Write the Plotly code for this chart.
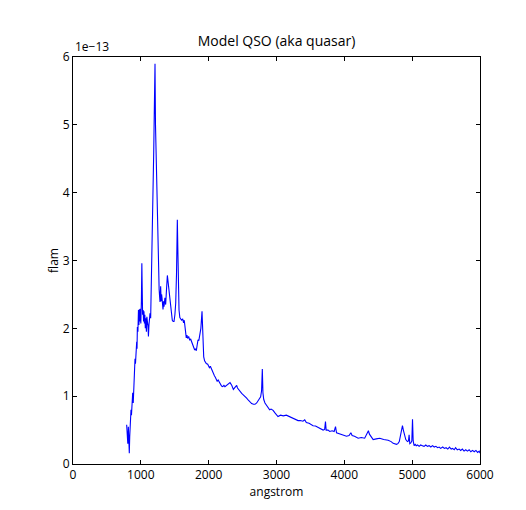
import plotly.graph_objects as go

# wavelength (angstrom) and flux (units of 1e-13 flam)
wavelength = [791, 800, 808, 816, 823, 830, 836, 840, 848, 855, 862, 870, 880, 888, 895, 905, 914, 921, 929, 934,
              939, 944, 949, 957, 965, 972, 978, 985, 992, 1000, 1008, 1015, 1020, 1026, 1034, 1040, 1046, 1053, 1059, 1066,
              1074, 1082, 1089, 1097, 1105, 1112, 1120, 1127, 1135, 1145, 1161, 1175, 1190, 1200, 1209, 1216, 1224, 1230,
              1240, 1250, 1258, 1264, 1270, 1278, 1283, 1292, 1300, 1306, 1312, 1320, 1327, 1335, 1342, 1355, 1366, 1380,
              1391, 1400, 1415, 1428, 1440, 1452, 1464, 1477, 1489, 1502, 1514, 1526, 1538, 1545, 1555, 1563, 1575, 1587,
              1600, 1617, 1630, 1640, 1651, 1660, 1670, 1680, 1690, 1705, 1720, 1735, 1750, 1770, 1782, 1794, 1806, 1818,
              1830, 1843, 1855, 1868, 1885, 1902, 1910, 1918, 1927, 1940, 1951, 1965, 1986, 1998, 2011, 2025, 2040, 2060,
              2072, 2085, 2098, 2110, 2125, 2140, 2159, 2175, 2190, 2208, 2225, 2240, 2265, 2290, 2315, 2340, 2364, 2388,
              2413, 2425, 2438, 2462, 2487, 2510, 2536, 2560, 2585, 2610, 2634, 2660, 2683, 2708, 2732, 2750, 2766, 2780,
              2791, 2800, 2812, 2830, 2850, 2870, 2899, 2920, 2950, 2980, 3022, 3060, 3100, 3145, 3190, 3244, 3280, 3318,
              3350, 3390, 3416, 3440, 3480, 3539, 3575, 3613, 3650, 3687, 3710, 3722, 3732, 3760, 3785, 3820, 3850, 3870,
              3885, 3920, 3958, 4000, 4032, 4070, 4096, 4115, 4150, 4204, 4250, 4300, 4327, 4345, 4355, 4370, 4400, 4425,
              4470, 4523, 4580, 4646, 4690, 4720, 4769, 4790, 4810, 4828, 4845, 4857, 4870, 4885, 4906, 4930, 4945, 4955,
              4965, 4980, 4995, 5005, 5015, 5029, 5045, 5060, 5080, 5103, 5125, 5150, 5175, 5201, 5225, 5250, 5275, 5300,
              5325, 5350, 5375, 5398, 5420, 5450, 5475, 5500, 5525, 5550, 5575, 5595, 5620, 5640, 5665, 5693, 5715, 5740,
              5765, 5790, 5815, 5840, 5865, 5890, 5915, 5940, 5965, 5988, 6000]
flam = [0.58, 0.45, 0.30, 0.55, 0.35, 0.16, 0.40, 0.50, 0.70, 0.80, 0.72, 0.95, 1.05, 0.90, 1.20, 1.45, 1.55, 1.48, 1.62, 1.72,
        1.80, 1.70, 2.02, 1.95, 2.27, 2.05, 2.28, 2.10, 2.29, 2.07, 2.40, 2.96, 2.60, 2.20, 2.27, 2.10, 2.25, 2.07, 2.20, 2.00,
        2.15, 1.95, 2.17, 2.10, 2.04, 1.88, 2.05, 2.20, 2.22, 2.15, 2.90, 3.70, 4.60, 5.30, 5.90, 5.00, 4.58, 4.40,
        3.60, 3.06, 2.96, 2.75, 2.57, 2.45, 2.39, 2.62, 2.40, 2.50, 2.45, 2.35, 2.28, 2.40, 2.32, 2.45, 2.35, 2.60,
        2.78, 2.70, 2.56, 2.40, 2.27, 2.15, 2.12, 2.10, 2.10, 2.20, 2.37, 2.80, 3.60, 3.20, 2.50, 2.27, 2.16, 2.14,
        2.12, 2.14, 2.08, 2.12, 2.00, 1.95, 1.86, 1.90, 1.85, 1.88, 1.83, 1.84, 1.80, 1.73, 1.72, 1.68, 1.70, 1.67,
        1.75, 1.83, 1.82, 1.88, 2.00, 2.25, 2.02, 1.75, 1.58, 1.52, 1.49, 1.48, 1.47, 1.44, 1.42, 1.44, 1.40, 1.37,
        1.33, 1.30, 1.28, 1.25, 1.22, 1.24, 1.20, 1.17, 1.15, 1.14, 1.16, 1.14, 1.165, 1.19, 1.20, 1.16, 1.10, 1.13,
        1.16, 1.12, 1.10, 1.08, 1.04, 1.02, 1.00, 0.97, 0.94, 0.91, 0.89, 0.88, 0.88, 0.90, 0.94, 0.97, 0.99, 1.08,
        1.40, 1.05, 0.95, 0.90, 0.87, 0.84, 0.80, 0.81, 0.79, 0.75, 0.70, 0.72, 0.71, 0.72, 0.70, 0.67, 0.66, 0.64,
        0.64, 0.63, 0.65, 0.61, 0.60, 0.565, 0.56, 0.54, 0.52, 0.50, 0.51, 0.625, 0.50, 0.50, 0.48, 0.49, 0.48, 0.55,
        0.46, 0.45, 0.43, 0.42, 0.41, 0.42, 0.46, 0.42, 0.41, 0.38, 0.39, 0.38, 0.43, 0.47, 0.49, 0.44, 0.40, 0.36,
        0.37, 0.38, 0.36, 0.35, 0.33, 0.305, 0.29, 0.30, 0.33, 0.42, 0.52, 0.565, 0.50, 0.42, 0.36, 0.33, 0.34, 0.43,
        0.30, 0.31, 0.34, 0.66, 0.34, 0.27, 0.29, 0.27, 0.28, 0.26, 0.28, 0.27, 0.26, 0.28, 0.26, 0.27, 0.25, 0.27,
        0.25, 0.26, 0.24, 0.25, 0.23, 0.25, 0.23, 0.24, 0.22, 0.25, 0.22, 0.23, 0.21, 0.24, 0.21, 0.22, 0.20, 0.22,
        0.19, 0.21, 0.19, 0.21, 0.18, 0.20, 0.18, 0.20, 0.17, 0.19, 0.16]

x_ticks = [0, 1000, 2000, 3000, 4000, 5000, 6000]
y_ticks = [0, 1, 2, 3, 4, 5, 6]

font = "Open Sans, DejaVu Sans, sans-serif"

fig = go.Figure()
fig.add_trace(go.Scatter(x=wavelength, y=flam, mode="lines",
                         line=dict(color="#0000ff", width=1.1), hoverinfo="skip"))

axis_common = dict(showline=True, linecolor="black", linewidth=1, mirror="ticks",
                   ticks="inside", ticklen=4, tickcolor="black", showgrid=False,
                   zeroline=False, tickfont=dict(family=font, size=12, color="black"))

# the page puts the figure 8px in from the top-left corner
W, H = 518, 502
fig.update_layout(
    width=W, height=H,
    margin=dict(l=65, r=W - 472, t=49, b=H - 456),
    paper_bgcolor="white", plot_bgcolor="white",
    showlegend=False,
    title=dict(text="Model QSO (aka quasar)", x=0.5, xanchor="center", xref="paper",
               y=1 - 33 / H, yanchor="middle",
               font=dict(family=font, size=14, color="black")),
    xaxis=dict(range=[0, 6000], tickvals=x_ticks, ticktext=[str(v) for v in x_ticks],
               title=dict(text="angstrom", font=dict(family=font, size=12, color="black"), standoff=4),
               **axis_common),
    yaxis=dict(range=[0, 6], tickvals=y_ticks, ticktext=[str(v) for v in y_ticks],
               title=dict(text="flam", font=dict(family=font, size=12, color="black"), standoff=1),
               **axis_common),
    annotations=[dict(text="1e\u221213", xref="paper", yref="paper", x=0, y=1,
                      xanchor="left", yanchor="bottom", yshift=0, showarrow=False,
                      font=dict(family=font, size=12, color="black"))],
)

fig.write_html("out.html")
